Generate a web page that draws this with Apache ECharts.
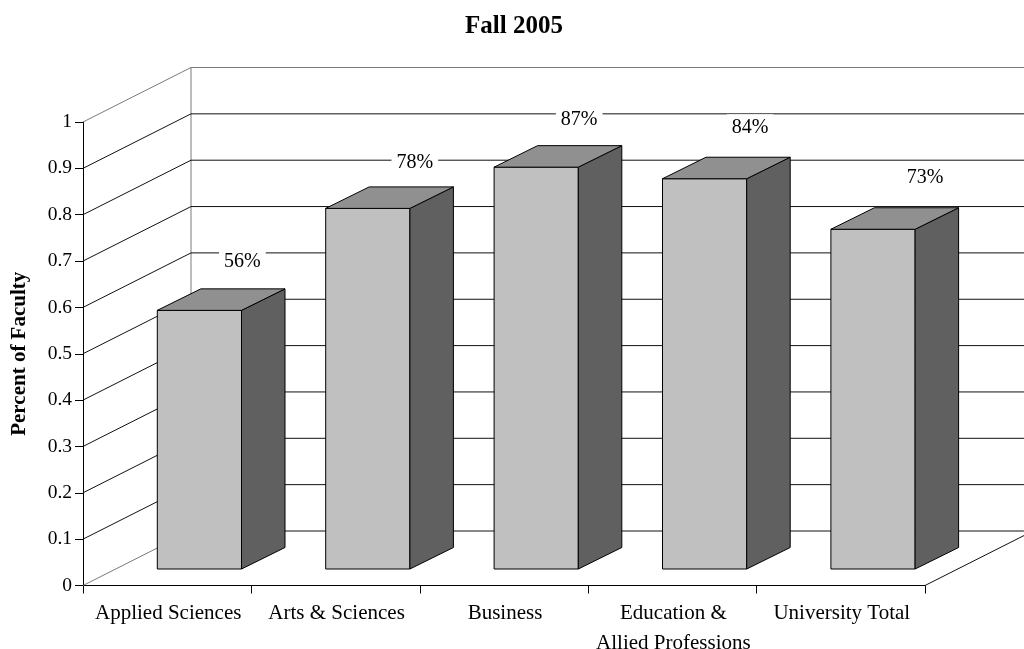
<!DOCTYPE html>
<html><head><meta charset="utf-8">
<style>html,body{margin:0;padding:0;background:#fff}#c{width:1024px;height:649px}</style>
<script src="https://cdn.jsdelivr.net/npm/echarts@6/dist/echarts.min.js"></script>
</head><body><div id="c"></div>
<script>
var titleText = 'Fall 2005';
var axisTitle = 'Percent of Faculty';
var categories = ['Applied Sciences','Arts & Sciences','Business','Education &\nAllied Professions','University Total'];
var values = [0.558,0.778,0.867,0.842,0.733];
var wallTicks = [0,0.1,0.2,0.3,0.4,0.5,0.6,0.7,0.8,0.9,1];
var labelShift = [[43,-49],[47,-46],[43,-47],[45.5,-50.5],[52,-52]];

var FONT = '"Liberation Serif","Times New Roman",serif';
var WALL = [108,-54.5], BAR_SHIFT = [32.2,-16.5], DEPTH = [43.5,-21.5];
var LINE = '#111', EDGE = '#7a7a7a';
var chart = echarts.init(document.getElementById('c'),null,{renderer:'canvas'});
function add(p,d){return [p[0]+d[0],p[1]+d[1]];}
function line(a,b,c){return {type:'line',shape:{x1:a[0],y1:a[1],x2:b[0],y2:b[1]},style:{stroke:c,lineWidth:1,fill:null}};}
function poly(pts,fill){return {type:'polygon',shape:{points:pts},style:{fill:fill,stroke:'#000',lineWidth:1,lineJoin:'miter'}};}

chart.setOption({
  animation:false,
  backgroundColor:'#fff',
  title:{text:titleText,left:509,top:9,textAlign:'center',textStyle:{fontFamily:FONT,fontWeight:'bold',fontSize:25,color:'#000'}},
  grid:{left:83,right:99,top:122,bottom:63.5,containLabel:false,outerBoundsMode:'none'},
  xAxis:{type:'category',data:categories,boundaryGap:true,
    axisLine:{lineStyle:{color:'#000',width:1}},
    axisTick:{show:true,alignWithLabel:false,length:8,lineStyle:{color:'#000'}},
    axisLabel:{fontFamily:FONT,fontSize:21,color:'#000',margin:13,lineHeight:30,interval:0,padding:[0,0,0,2]},
    splitLine:{show:false}},
  yAxis:{type:'value',min:0,max:1,interval:0.1,name:axisTitle,nameLocation:'middle',nameGap:53,nameMoveOverlap:false,
    nameTextStyle:{fontFamily:FONT,fontWeight:'bold',fontSize:21,color:'#000'},
    axisLine:{show:true,lineStyle:{color:'#000',width:1}},
    axisTick:{show:true,length:8,lineStyle:{color:'#000'}},
    axisLabel:{fontFamily:FONT,fontSize:19.5,color:'#000',margin:11,padding:[3,0,0,0]},
    splitLine:{show:false}},
  series:[
    {type:'custom',z:1,silent:true,clip:false,data:wallTicks.map(function(v){return [v];}),
     encode:{y:0},
     renderItem:function(p,api){
       var v=api.value(0), n=categories.length;
       var left=api.coord([0,v]), right=api.coord([n-1,v]);
       var w=api.size([1,0])[0];
       var a=[left[0]-w/2,left[1]], b=[right[0]+w/2,right[1]];
       var ch=[];
       ch.push(line(a,add(a,WALL),v===0||v===1?EDGE:LINE));
       ch.push(line(add(a,WALL),add(b,WALL),v===1?EDGE:LINE));
       if(v===0){
         ch.push(line(b,add(b,WALL),LINE));
         var top=api.coord([0,1]);
         ch.push(line(add(a,WALL),add([a[0],top[1]],WALL),EDGE));
       }
       return {type:'group',children:ch};
     }},
    {type:'custom',z:2,silent:true,clip:false,data:values.map(function(v,i){return [i,v];}),
     encode:{x:0,y:1},
     renderItem:function(p,api){
       var i=api.value(0), v=api.value(1);
       var w=api.size([1,0])[0]*0.5;
       var base=add(api.coord([i,0]),BAR_SHIFT), top=add(api.coord([i,v]),BAR_SHIFT);
       var x0=base[0]-w/2,x1=base[0]+w/2;
       var fbl=[x0,base[1]],fbr=[x1,base[1]],ftl=[x0,top[1]],ftr=[x1,top[1]];
       return {type:'group',children:[
         poly([fbl,fbr,ftr,ftl],'#c0c0c0'),
         poly([fbr,add(fbr,DEPTH),add(ftr,DEPTH),ftr],'#606060'),
         poly([ftl,ftr,add(ftr,DEPTH),add(ftl,DEPTH)],'#909090')
       ]};
     }},
    {type:'custom',z:3,silent:true,clip:false,data:values.map(function(v,i){return [i,v];}),
     encode:{x:0,y:1},
     renderItem:function(p,api){
       var i=api.value(0), v=api.value(1);
       var q=add(add(api.coord([i,v]),BAR_SHIFT),labelShift[i]);
       return {type:'text',x:q[0],y:q[1],style:{
         text:Math.round(v*100)+'%',fontFamily:FONT,fontSize:20,fill:'#000',
         align:'center',verticalAlign:'middle',backgroundColor:'#fff',padding:[4,5,4,5]}};
     }}
  ]
});
</script></body></html>
